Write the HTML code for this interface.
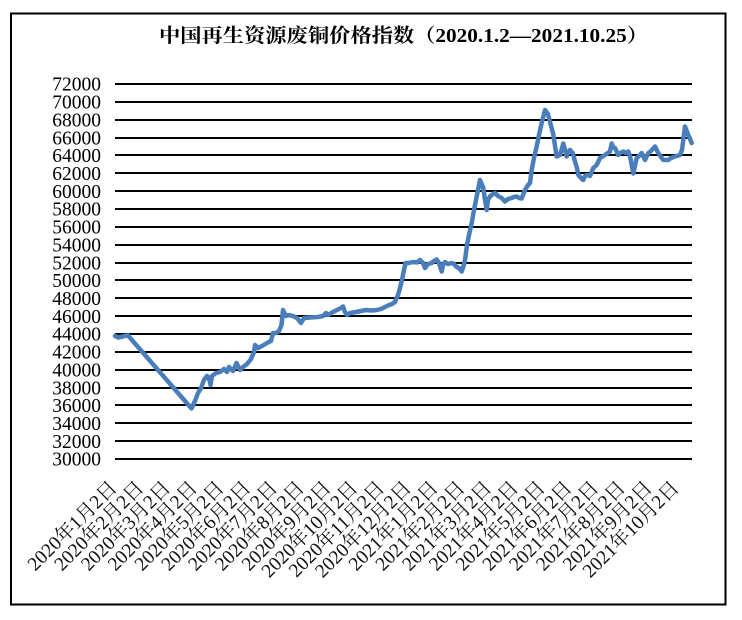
<!DOCTYPE html>
<html>
<head>
<meta charset="utf-8">
<style>
  html,body{margin:0;padding:0;background:#fff;}
  svg{display:block;}
  .yl{font-family:"Liberation Serif","Noto Serif CJK SC",serif;font-size:19.5px;fill:#000;}
  .xl{font-family:"Liberation Serif","Noto Serif CJK SC",serif;font-size:19.5px;fill:#111;}
  .tt{font-family:"Liberation Serif","Noto Serif CJK SC",serif;font-size:19.5px;font-weight:bold;fill:#000;}
</style>
</head>
<body>
<svg width="742" height="620" viewBox="0 0 742 620" xmlns="http://www.w3.org/2000/svg">
  <rect x="0" y="0" width="742" height="620" fill="#fff"/>
  <rect x="11" y="13.5" width="714.5" height="591" fill="none" stroke="#000" stroke-width="2"/>

  <text class="tt" x="159" y="42" textLength="489" lengthAdjust="spacingAndGlyphs">中国再生资源废铜价格指数（2020.1.2—2021.10.25）</text>

  <g stroke="#000" stroke-width="2">
    <line x1="115" x2="692" y1="84" y2="84"/>
    <line x1="115" x2="692" y1="102" y2="102"/>
    <line x1="115" x2="692" y1="120" y2="120"/>
    <line x1="115" x2="692" y1="138" y2="138"/>
    <line x1="115" x2="692" y1="155" y2="155"/>
    <line x1="115" x2="692" y1="173" y2="173"/>
    <line x1="115" x2="692" y1="191" y2="191"/>
    <line x1="115" x2="692" y1="209" y2="209"/>
    <line x1="115" x2="692" y1="227" y2="227"/>
    <line x1="115" x2="692" y1="245" y2="245"/>
    <line x1="115" x2="692" y1="263" y2="263"/>
    <line x1="115" x2="692" y1="280" y2="280"/>
    <line x1="115" x2="692" y1="298" y2="298"/>
    <line x1="115" x2="692" y1="316" y2="316"/>
    <line x1="115" x2="692" y1="334" y2="334"/>
    <line x1="115" x2="692" y1="352" y2="352"/>
    <line x1="115" x2="692" y1="370" y2="370"/>
    <line x1="115" x2="692" y1="388" y2="388"/>
    <line x1="115" x2="692" y1="405" y2="405"/>
    <line x1="115" x2="692" y1="423" y2="423"/>
    <line x1="115" x2="692" y1="441" y2="441"/>
    <line x1="115" x2="692" y1="459" y2="459"/>
  </g>

  <g class="yl" text-anchor="end">
    <text x="101" y="90.7">72000</text>
    <text x="101" y="108.56">70000</text>
    <text x="101" y="126.41">68000</text>
    <text x="101" y="144.27">66000</text>
    <text x="101" y="162.13">64000</text>
    <text x="101" y="179.99">62000</text>
    <text x="101" y="197.84">60000</text>
    <text x="101" y="215.7">58000</text>
    <text x="101" y="233.56">56000</text>
    <text x="101" y="251.41">54000</text>
    <text x="101" y="269.27">52000</text>
    <text x="101" y="287.13">50000</text>
    <text x="101" y="304.99">48000</text>
    <text x="101" y="322.84">46000</text>
    <text x="101" y="340.7">44000</text>
    <text x="101" y="358.56">42000</text>
    <text x="101" y="376.41">40000</text>
    <text x="101" y="394.27">38000</text>
    <text x="101" y="412.13">36000</text>
    <text x="101" y="429.99">34000</text>
    <text x="101" y="447.84">32000</text>
    <text x="101" y="465.7">30000</text>
  </g>

  <polyline fill="none" stroke="#4a7ebb" stroke-width="4.5" stroke-linejoin="round" stroke-linecap="round"
    points="115,336 118,337.5 121,337 124,336 128,335.5 191.5,408.5 195,401 198,393 201,388 204,380 207,376 209,378 210.5,385 212,376 216,373 220,372 224,369 227,372 229,367 233,371 236.5,363 240,370 243,367 247,364 251,359 254,352 255,345 258,348 262,346 267,343 271,341 273,333 276,333 279,331 281.5,325 283,310 286,316 289,315 293,316 297,318 301,323 304,318 310,317.5 318,317 323,316 326,313 328,315 333,312 337,310 341,308 343,306.5 345,312 347,315 350,313 356,312 361,311 366,310 371,310.5 377,310 381,309 385,307 388,305.5 392,304 395,302 398,295 400,288 402,280 404,270 405.5,263 409,263 413,262 417,262.5 420,260 423,263 425,268 428,264 431.7,263 434,261 436.7,259.5 439,263 441.7,271.5 443,265 445,262 448,264 451.7,263 454,264 456.7,267 459,268 461.7,271.5 463.3,267 465,260 467,245 469,235 471.7,223 474,210 477,195 480,180 483.3,188 485,200 486.7,210 488,200 490,196.5 493,194 495,193 498,196 501.7,198 505,201.5 508,199 511.7,198 514,197 516.7,196.5 519,198 521.7,198.5 523,195 525,190 528,185 530,183 531.7,170 534,158 536.7,146.5 539,135 541.7,123 545,110 548,114 550,122 553,133 556.7,156.5 560,155 563.3,143.5 565,150 566.7,156.5 568,152 570,150 572.7,153 575,161.5 577,168 578.3,175 581,178 583.3,180 585,176 586.7,175 590,176 593.3,168 596.7,165 600,158 605,155 610,151.5 611.7,143.5 613,147 615,148 618.3,155 620,153 623.3,151.5 626,153 628.3,151.5 630,156 633.3,173.5 636.7,158 639,156 641.7,153 645,160 648.3,153 651,151 655,146.5 658.3,153 661,157 663.3,160 668.3,160 671,158 675,156.5 680,155 682,150 685,126.5 688.3,135 691.7,143"/>

  <g class="xl" text-anchor="end">
    <text transform="translate(118,489) rotate(-45)">2020年1月2日</text>
    <text transform="translate(144.76,489) rotate(-45)">2020年2月2日</text>
    <text transform="translate(171.52,489) rotate(-45)">2020年3月2日</text>
    <text transform="translate(198.28,489) rotate(-45)">2020年4月2日</text>
    <text transform="translate(225.04,489) rotate(-45)">2020年5月2日</text>
    <text transform="translate(251.8,489) rotate(-45)">2020年6月2日</text>
    <text transform="translate(278.56,489) rotate(-45)">2020年7月2日</text>
    <text transform="translate(305.32,489) rotate(-45)">2020年8月2日</text>
    <text transform="translate(332.08,489) rotate(-45)">2020年9月2日</text>
    <text transform="translate(358.84,489) rotate(-45)">2020年10月2日</text>
    <text transform="translate(385.6,489) rotate(-45)">2020年11月2日</text>
    <text transform="translate(412.36,489) rotate(-45)">2020年12月2日</text>
    <text transform="translate(439.12,489) rotate(-45)">2021年1月2日</text>
    <text transform="translate(465.88,489) rotate(-45)">2021年2月2日</text>
    <text transform="translate(492.64,489) rotate(-45)">2021年3月2日</text>
    <text transform="translate(519.4,489) rotate(-45)">2021年4月2日</text>
    <text transform="translate(546.16,489) rotate(-45)">2021年5月2日</text>
    <text transform="translate(572.92,489) rotate(-45)">2021年6月2日</text>
    <text transform="translate(599.68,489) rotate(-45)">2021年7月2日</text>
    <text transform="translate(626.44,489) rotate(-45)">2021年8月2日</text>
    <text transform="translate(653.2,489) rotate(-45)">2021年9月2日</text>
    <text transform="translate(680,489) rotate(-45)">2021年10月2日</text>
  </g>
</svg>
</body>
</html>
